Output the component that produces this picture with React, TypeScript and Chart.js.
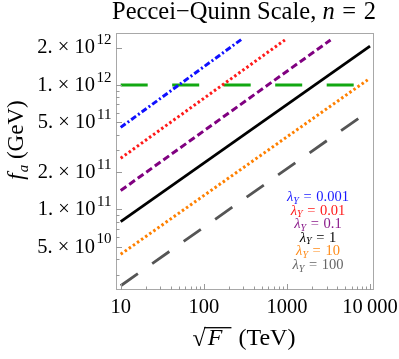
import React, { useEffect, useRef } from "react";
import { Chart, registerables } from "chart.js";

Chart.register(...registerables);

// ---- data ----
const lambdaLabels = ["0.001", "0.01", "0.1", "1", "10", "100"];
const xStartTeV = [10, 10, 10, 10, 10, 10];
const xEndTeV = [295, 946, 3350, 10000, 9380, 7470];
const faStartGeV = [4.57e11, 2.58e11, 1.42e11, 7.98e10, 4.37e10, 2.44e10];
const faEndGeV = [2.37e12, 2.3e12, 2.3e12, 2.05e12, 1.1e12, 5.46e11];
const pqLineX = [10, 10000];
const pqLineY = [1e12, 1e12];

const xTickValues = [10, 100, 1000, 10000];
const xTickLabels = ["10", "100", "1000", "10\u2009000"];
const yTickValues = [5e10, 1e11, 2e11, 5e11, 1e12, 2e12];
const yTickMantissas = ["5.", "1.", "2.", "5.", "1.", "2."];
const yTickExponents = ["10", "11", "11", "11", "12", "12"];

// ---- styles ----
const lineColors = ["#1010ff", "#ff1a1a", "#800080", "#000000", "#ff8000", "#555555"];
const lineDashes = [[6, 2.5, 2, 2.5], [2.5, 2.5], [7, 3.5], [], [2.5, 2.5], [21, 17.5]];
const lineWidths = [3, 3, 3, 2.8, 3, 2.8];
const legendColors = ["#1a1aff", "#ff1a1a", "#8a1a8a", "#000000", "#ff8c1a", "#666666"];
const greenColor = "#12a812";
const SERIF = '"Liberation Serif", "Times New Roman", serif';

const decorPlugin = {
  id: "decor",
  afterDraw(chart: any) {
    const { ctx, chartArea: a, scales } = chart;
    const xs = scales.x;
    const ys = scales.y;
    ctx.save();

    // frame
    ctx.strokeStyle = "#a8a8a8";
    ctx.lineWidth = 1;
    ctx.strokeRect(a.left + 0.5, a.top + 0.5, a.right - a.left - 1, a.bottom - a.top - 1);

    // y ticks
    ctx.strokeStyle = "#999999";
    ctx.beginPath();
    for (let d = 10; d <= 12; d++) {
      for (let m = 1; m <= 9; m++) {
        const v = m * Math.pow(10, d);
        if (v < ys.min || v > ys.max) continue;
        const py = Math.round(ys.getPixelForValue(v)) + 0.5;
        const len = m === 1 || m === 2 || m === 5 ? 6 : 3.5;
        ctx.moveTo(a.left, py);
        ctx.lineTo(a.left + len, py);
      }
    }
    // x ticks
    for (let d = 1; d <= 4; d++) {
      for (let m = 1; m <= 9; m++) {
        const v = m * Math.pow(10, d);
        if (v < xs.min || v > xs.max) continue;
        const px = Math.round(xs.getPixelForValue(v)) + 0.5;
        const len = m === 1 ? 6 : 3.5;
        ctx.moveTo(px, a.bottom);
        ctx.lineTo(px, a.bottom - len);
      }
    }
    ctx.stroke();

    ctx.fillStyle = "#000";
    ctx.textBaseline = "alphabetic";

    // y tick labels with superscripts
    yTickValues.forEach((v, i) => {
      const py = ys.getPixelForValue(v);
      const base = yTickMantissas[i] + " \u00d7 10";
      const right = a.left - 4.5;
      ctx.font = `15px ${SERIF}`;
      const ew = ctx.measureText(yTickExponents[i]).width;
      ctx.textAlign = "left";
      ctx.fillText(yTickExponents[i], right - ew, py - 3.5);
      ctx.font = `20.5px ${SERIF}`;
      const bw = ctx.measureText(base).width;
      ctx.fillText(base, right - ew - 1.5 - bw, py + 5.8);
    });

    // x tick labels
    ctx.font = `20.5px ${SERIF}`;
    ctx.textAlign = "center";
    xTickValues.forEach((v, i) => {
      ctx.fillText(xTickLabels[i], xs.getPixelForValue(v), a.bottom + 22.5);
    });

    // title
    {
      const p1 = "Peccei\u2212Quinn Scale, ";
      const p2 = "n";
      const p3 = " = 2";
      const fs = 24.5;
      ctx.font = `${fs}px ${SERIF}`;
      const w1 = ctx.measureText(p1).width;
      const w3 = ctx.measureText(p3).width + 3;
      ctx.font = `italic ${fs}px ${SERIF}`;
      const w2 = ctx.measureText(p2).width;
      const total = w1 + w2 + w3;
      const cx = 244;
      const x0 = cx - total / 2;
      const by = 18.5;
      ctx.textAlign = "left";
      ctx.font = `${fs}px ${SERIF}`;
      ctx.fillText(p1, x0, by);
      ctx.font = `italic ${fs}px ${SERIF}`;
      ctx.fillText(p2, x0 + w1, by);
      ctx.font = `${fs}px ${SERIF}`;
      ctx.fillText(" =", x0 + w1 + w2 + 1.5, by);
      const we = ctx.measureText(" =").width;
      ctx.fillText(" 2", x0 + w1 + w2 + 3 + we, by);
    }

    // x axis title: sqrt(F) (TeV)
    {
      const by = 345;
      const fs = 24;
      ctx.font = `${fs}px ${SERIF}`;
      const ws = ctx.measureText("\u221a").width;
      const wt = ctx.measureText("(TeV)").width;
      ctx.font = `italic ${fs}px ${SERIF}`;
      const wf = ctx.measureText("F").width;
      const gapF = 2;
      const tail = 9;
      const gap2 = 7;
      const total = ws + gapF + wf + tail + gap2 + wt;
      const cx = 244;
      const x0 = cx - total / 2;
      ctx.textAlign = "left";
      ctx.font = `${fs}px ${SERIF}`;
      ctx.fillText("\u221a", x0, by + 1);
      ctx.font = `italic ${fs}px ${SERIF}`;
      ctx.fillText("F", x0 + ws + gapF, by);
      ctx.strokeStyle = "#000";
      ctx.lineWidth = 1.3;
      ctx.beginPath();
      ctx.moveTo(x0 + ws - 1.5, by - 17.3);
      ctx.lineTo(x0 + ws + gapF + wf + tail, by - 17.3);
      ctx.stroke();
      ctx.font = `${fs}px ${SERIF}`;
      ctx.fillText("(TeV)", x0 + ws + gapF + wf + tail + gap2, by);
    }

    // y axis title: f_a (GeV)
    {
      ctx.save();
      ctx.translate(23, 140);
      ctx.rotate(-Math.PI / 2);
      ctx.font = `italic 23px ${SERIF}`;
      const wf = ctx.measureText("f").width;
      ctx.font = `italic 15px ${SERIF}`;
      const wa = ctx.measureText("a").width;
      ctx.font = `23px ${SERIF}`;
      const wg = ctx.measureText(" (GeV)").width;
      const total = wf + 1 + wa + wg;
      const x0 = -total / 2;
      ctx.textAlign = "left";
      ctx.font = `italic 23px ${SERIF}`;
      ctx.fillText("f", x0, 0);
      ctx.font = `italic 15px ${SERIF}`;
      ctx.fillText("a", x0 + wf + 1, 4.5);
      ctx.font = `23px ${SERIF}`;
      ctx.fillText(" (GeV)", x0 + wf + 1 + wa, 0);
      ctx.restore();
    }

    // legend
    lambdaLabels.forEach((lab, i) => {
      const by = 201 + i * 13.6;
      const cx = 318;
      const fs = 14.5;
      ctx.font = `italic ${fs}px ${SERIF}`;
      const wl = ctx.measureText("\u03bb").width;
      ctx.font = `italic 10px ${SERIF}`;
      const wy = ctx.measureText("Y").width;
      ctx.font = `${fs}px ${SERIF}`;
      const rest = " = " + lab;
      const wr = ctx.measureText(rest).width + 2;
      const total = wl + wy + wr;
      const x0 = cx - total / 2;
      ctx.fillStyle = legendColors[i];
      ctx.textAlign = "left";
      ctx.font = `italic ${fs}px ${SERIF}`;
      ctx.fillText("\u03bb", x0, by);
      ctx.font = `italic 10px ${SERIF}`;
      ctx.fillText("Y", x0 + wl, by + 2.5);
      ctx.font = `${fs}px ${SERIF}`;
      ctx.fillText(" =", x0 + wl + wy + 1, by);
      const we = ctx.measureText(" =").width;
      ctx.fillText(" " + lab, x0 + wl + wy + 2 + we, by);
    });

    ctx.restore();
  },
};

export default function App() {
  const ref = useRef<HTMLCanvasElement>(null);
  useEffect(() => {
    document.body.style.margin = "0";
    const datasets: any[] = lambdaLabels.map((lab, i) => ({
      label: "lambda_Y = " + lab,
      data: [
        { x: xStartTeV[i], y: faStartGeV[i] },
        { x: xEndTeV[i], y: faEndGeV[i] },
      ],
      showLine: true,
      borderColor: lineColors[i],
      borderWidth: lineWidths[i],
      borderDash: lineDashes[i],
      borderCapStyle: "butt",
      pointRadius: 0,
      fill: false,
      order: 1,
    }));
    datasets.push({
      label: "PQ",
      data: pqLineX.map((x, i) => ({ x, y: pqLineY[i] })),
      showLine: true,
      borderColor: greenColor,
      borderWidth: 3,
      borderDash: [27, 24.5],
      borderCapStyle: "butt",
      pointRadius: 0,
      fill: false,
      order: 2,
    });
    const chart = new Chart(ref.current as HTMLCanvasElement, {
      type: "scatter",
      data: { datasets },
      options: {
        animation: false,
        responsive: false,
        devicePixelRatio: 1,
        layout: { padding: { left: 116, right: 25, top: 33, bottom: 69 } },
        plugins: { legend: { display: false }, tooltip: { enabled: false }, title: { display: false } },
        scales: {
          x: {
            type: "logarithmic",
            min: 8.78,
            max: 11170,
            ticks: { display: false },
            grid: { display: false },
            border: { display: false },
            afterFit: (s: any) => { s.height = 0; },
          },
          y: {
            type: "logarithmic",
            min: 2.256e10,
            max: 2.617e12,
            ticks: { display: false },
            grid: { display: false },
            border: { display: false },
            afterFit: (s: any) => { s.width = 0; },
          },
        },
      } as any,
      plugins: [decorPlugin],
    });
    return () => chart.destroy();
  }, []);
  return (
    <div style={{ position: "fixed", left: 0, top: 0, width: 399, height: 359, background: "#fff" }}>
      <canvas ref={ref} width={399} height={359} style={{ width: 399, height: 359, display: "block" }} />
    </div>
  );
}
